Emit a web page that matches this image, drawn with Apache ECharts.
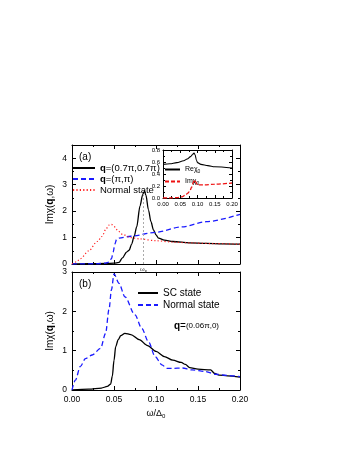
<!DOCTYPE html>
<html>
<head>
<meta charset="utf-8">
<script src="https://cdn.jsdelivr.net/npm/echarts@6/dist/echarts.min.js"></script>
<style>
  html, body { margin: 0; padding: 0; background: #fff; }
  #chart { width: 349px; height: 451px; }
</style>
</head>
<body>
<div id="chart"></div>
<script>
// panel (a) main curves
var q07X = [0, 0.02, 0.04, 0.05, 0.056, 0.06, 0.065, 0.068, 0.071, 0.074, 0.077, 0.081, 0.084, 0.086, 0.088, 0.091, 0.094, 0.097, 0.1, 0.103, 0.11, 0.12, 0.14, 0.16, 0.18, 0.2];
var q07Y = [0, 0.01, 0.02, 0.03, 0.06, 0.23, 0.45, 0.52, 0.75, 1.05, 1.4, 2.2, 2.6, 2.78, 2.6, 2.05, 1.6, 1.29, 1.1, 0.98, 0.9, 0.85, 0.8, 0.78, 0.76, 0.75];
var qppX = [0, 0.03, 0.04, 0.044, 0.047, 0.049, 0.051, 0.053, 0.056, 0.07, 0.1, 0.13, 0.16, 0.2];
var qppY = [0, 0.01, 0.03, 0.07, 0.2, 0.45, 0.75, 0.92, 0.98, 1.05, 1.2, 1.4, 1.6, 1.88];
var normAX = [0, 0.005, 0.01, 0.02, 0.03, 0.036, 0.04, 0.044, 0.047, 0.05, 0.055, 0.06, 0.07, 0.08, 0.1, 0.12, 0.14, 0.17, 0.2];
var normAY = [0, 0.08, 0.2, 0.5, 0.85, 1.05, 1.3, 1.47, 1.5, 1.42, 1.25, 1.12, 1.0, 0.95, 0.88, 0.83, 0.8, 0.77, 0.75];
var omegaP = 0.085;
var omegaPTop = 2.78;

// inset
var reX = [0, 0.02, 0.04, 0.06, 0.07, 0.08, 0.085, 0.09, 0.093, 0.097, 0.1, 0.11, 0.13, 0.15, 0.2];
var reY = [0.56, 0.57, 0.59, 0.62, 0.65, 0.69, 0.72, 0.75, 0.72, 0.63, 0.59, 0.56, 0.54, 0.52, 0.5];
var imX = [0, 0.02, 0.04, 0.055, 0.065, 0.072, 0.078, 0.083, 0.087, 0.091, 0.095, 0.1, 0.12, 0.15, 0.2];
var imY = [0, 0, 0.005, 0.02, 0.05, 0.08, 0.12, 0.18, 0.25, 0.3, 0.27, 0.22, 0.22, 0.23, 0.25];

// panel (b)
var scX = [0, 0.02, 0.035, 0.042, 0.046, 0.048, 0.05, 0.052, 0.055, 0.058, 0.063, 0.07, 0.08, 0.09, 0.1, 0.11, 0.12, 0.13, 0.135, 0.14, 0.15, 0.165, 0.17, 0.175, 0.185, 0.2];
var scY = [0, 0.02, 0.05, 0.09, 0.15, 0.35, 0.75, 1.1, 1.28, 1.38, 1.44, 1.41, 1.28, 1.13, 0.98, 0.85, 0.76, 0.7, 0.65, 0.57, 0.53, 0.51, 0.42, 0.38, 0.36, 0.33];
var normBX = [0, 0.004, 0.01, 0.016, 0.024, 0.034, 0.04, 0.044, 0.047, 0.05, 0.056, 0.063, 0.075, 0.083, 0.091, 0.099, 0.107, 0.113, 0.12, 0.131, 0.143, 0.159, 0.171, 0.185, 0.2];
var normBY = [0, 0.25, 0.6, 0.8, 0.89, 1.06, 1.44, 2.04, 2.55, 2.95, 2.71, 2.37, 1.91, 1.57, 1.23, 0.85, 0.64, 0.55, 0.55, 0.56, 0.51, 0.47, 0.4, 0.37, 0.34];

function zip(xs, ys) {
  return xs.map(function (x, i) { return [x, ys[i]]; });
}

var FONT = "Liberation Sans";
var names = {
  q07: "{b|q}=(0.7π,0.7π)",
  qpp: "{b|q}=(π,π)",
  normA: "Normal state",
  re: "Reχ{s|0}",
  im: "Imχ{s|0}",
  sc: "SC state",
  normB: "Normal state"
};
// hide the legend symbol, keep only the line sample
var noSymbol = { color: "transparent", borderColor: "transparent", borderWidth: 0 };

// axis helpers
function xAx(grid, pos, labels, opt) {
  var a = {
    type: "value", gridIndex: grid, position: pos, min: 0, max: 0.2, interval: 0.05,
    axisLine: { show: true, onZero: false, lineStyle: { color: "#000", width: 1 } },
    axisTick: { show: true, inside: true, length: grid === 2 ? 3 : 4, lineStyle: { color: "#000" } },
    minorTick: { show: true, splitNumber: 2, length: 2, lineStyle: { color: "#000" } },
    splitLine: { show: false },
    axisLabel: { show: !!labels, color: "#000", fontFamily: FONT, fontSize: labels === "small" ? 6 : 8.5, margin: labels === "small" ? 3 : 5,
      formatter: function (v) { return v.toFixed(2); } }
  };
  return Object.assign(a, opt || {});
}
function yAx(grid, pos, max, interval, labels, opt) {
  var a = {
    type: "value", gridIndex: grid, position: pos, min: 0, max: max, interval: interval,
    axisLine: { show: true, onZero: false, lineStyle: { color: "#000", width: 1 } },
    axisTick: { show: true, inside: true, length: grid === 2 ? 3 : 4, lineStyle: { color: "#000" } },
    minorTick: { show: true, splitNumber: 2, length: 2, lineStyle: { color: "#000" } },
    splitLine: { show: false },
    axisLabel: { show: !!labels, color: "#000", fontFamily: FONT, fontSize: labels === "small" ? 6 : 8.5, margin: labels === "small" ? 3 : 5,
      formatter: function (v) {
        if (labels === "small") return v.toFixed(1);
        return Math.abs(v - Math.round(v)) < 1e-6 ? String(Math.round(v)) : "";
      } }
  };
  return Object.assign(a, opt || {});
}

var yName = {
  name: "{n|Imχ(}{b|q}{n|,ω)}", nameLocation: "middle", nameGap: 17,
  nameTextStyle: { fontFamily: FONT, rich: { n: { fontSize: 10, fontFamily: FONT }, b: { fontSize: 10, fontWeight: "bold", fontFamily: FONT } } }
};

var option = {
  animation: false,
  backgroundColor: "#fff",
  textStyle: { fontFamily: FONT },
  grid: [
    { left: 72, right: 109, top: 145, bottom: 187 },
    { left: 72, right: 109, top: 272, bottom: 61 },
    { left: 163, right: 117, top: 150, bottom: 253, backgroundColor: "#fff", show: true, borderWidth: 0, z: 5 }
  ],
  xAxis: [
    xAx(0, "bottom", false),
    xAx(0, "top", false),
    xAx(1, "bottom", true, {
      name: "ω/Δ{s|0}", nameLocation: "middle", nameGap: 18,
      nameTextStyle: { fontFamily: FONT, fontSize: 9, rich: { s: { fontSize: 6, padding: [5, 0, 0, 0] } } }
    }),
    xAx(1, "top", false),
    xAx(2, "bottom", "small", { z: 6 }),
    xAx(2, "top", false, { z: 6 })
  ],
  yAxis: [
    yAx(0, "left", 4.5, 1, true, Object.assign({}, yName)),
    yAx(0, "right", 4.5, 1, false),
    yAx(1, "left", 3, 1, true, Object.assign({}, yName)),
    yAx(1, "right", 3, 1, false),
    yAx(2, "left", 0.8, 0.2, "small", { z: 6 }),
    yAx(2, "right", 0.8, 0.2, false, { z: 6 })
  ],
  legend: [
    {
      data: ["q07", "qpp", "normA"], orient: "vertical", left: 72, top: 163,
      itemWidth: 22, itemHeight: 8, itemGap: 1, padding: 0, itemStyle: noSymbol,
      formatter: function (n) { return names[n]; },
      textStyle: { fontFamily: FONT, fontSize: 9.5, lineHeight: 9, color: "#000",
        rich: { b: { fontWeight: "bold", fontSize: 9.5, fontFamily: FONT } } }
    },
    {
      data: ["re", "im"], orient: "vertical", left: 164, top: 166, z: 7,
      itemWidth: 15, itemHeight: 6, itemGap: 4, padding: 0, itemStyle: noSymbol,
      formatter: function (n) { return names[n]; },
      textStyle: { fontFamily: FONT, fontSize: 7, color: "#000",
        rich: { s: { fontSize: 5, padding: [4, 0, 0, 0] } } }
    },
    {
      data: ["sc", "normB"], orient: "vertical", left: 137, top: 288,
      itemWidth: 20, itemHeight: 8, itemGap: 2, padding: 0, itemStyle: noSymbol,
      formatter: function (n) { return names[n]; },
      textStyle: { fontFamily: FONT, fontSize: 10, color: "#000" }
    }
  ],
  graphic: [
    { type: "text", left: 79, top: 152, style: { text: "(a)", fontFamily: FONT, fontSize: 10, fill: "#000" } },
    { type: "text", left: 79, top: 279, style: { text: "(b)", fontFamily: FONT, fontSize: 10, fill: "#000" } },
    { type: "text", left: 174, top: 321, style: {
      text: "{b|q}{n|=}{m|(0.06π,0)}", fill: "#000",
      rich: { b: { fontWeight: "bold", fontSize: 10, fontFamily: FONT }, n: { fontSize: 10, fontFamily: FONT }, m: { fontSize: 8, fontFamily: FONT } }
    } }
  ],
  series: [
    {
      name: "q07", type: "line", xAxisIndex: 0, yAxisIndex: 0, data: zip(q07X, q07Y),
      symbol: "none", smooth: 0.3, smoothMonotone: "x",
      lineStyle: { color: "#000", width: 1.3 }, itemStyle: { color: "#000" },
      markLine: {
        silent: true, symbol: "none", animation: false,
        lineStyle: { color: "#aaa", type: [2, 2], width: 1 },
        label: { position: "start", distance: 2, formatter: "{w|ω}{p|p}",
          rich: { w: { fontSize: 6, fontFamily: FONT, color: "#333" }, p: { fontSize: 4, fontFamily: FONT, color: "#333", padding: [3, 0, 0, 0] } } },
        data: [[{ coord: [omegaP, 0] }, { coord: [omegaP, omegaPTop] }]]
      }
    },
    {
      name: "qpp", type: "line", xAxisIndex: 0, yAxisIndex: 0, data: zip(qppX, qppY),
      symbol: "none", smooth: 0.3, smoothMonotone: "x",
      lineStyle: { color: "#1a1aff", width: 1.3, type: [5, 3] }, itemStyle: { color: "#1a1aff" }
    },
    {
      name: "normA", type: "line", xAxisIndex: 0, yAxisIndex: 0, data: zip(normAX, normAY),
      symbol: "none", smooth: 0.3, smoothMonotone: "x",
      lineStyle: { color: "#ff2020", width: 1.2, type: [1.2, 2.2] }, itemStyle: { color: "#ff2020" }
    },
    {
      name: "re", type: "line", xAxisIndex: 4, yAxisIndex: 4, data: zip(reX, reY), z: 8,
      symbol: "none", smooth: 0.3, smoothMonotone: "x",
      lineStyle: { color: "#000", width: 1.1 }, itemStyle: { color: "#000" }
    },
    {
      name: "im", type: "line", xAxisIndex: 4, yAxisIndex: 4, data: zip(imX, imY), z: 8,
      symbol: "none", smooth: 0.3, smoothMonotone: "x",
      lineStyle: { color: "#ee1111", width: 1.3, type: [4, 2] }, itemStyle: { color: "#ee1111" }
    },
    {
      name: "sc", type: "line", xAxisIndex: 2, yAxisIndex: 2, data: zip(scX, scY),
      symbol: "none", smooth: 0.3, smoothMonotone: "x",
      lineStyle: { color: "#000", width: 1.3 }, itemStyle: { color: "#000" }
    },
    {
      name: "normB", type: "line", xAxisIndex: 2, yAxisIndex: 2, data: zip(normBX, normBY),
      symbol: "none", smooth: 0.3, smoothMonotone: "x",
      lineStyle: { color: "#1a1aff", width: 1.3, type: [5, 3] }, itemStyle: { color: "#1a1aff" }
    }
  ]
};

var chart = echarts.init(document.getElementById("chart"), null, { renderer: "canvas" });
chart.setOption(option);
</script>
</body>
</html>
